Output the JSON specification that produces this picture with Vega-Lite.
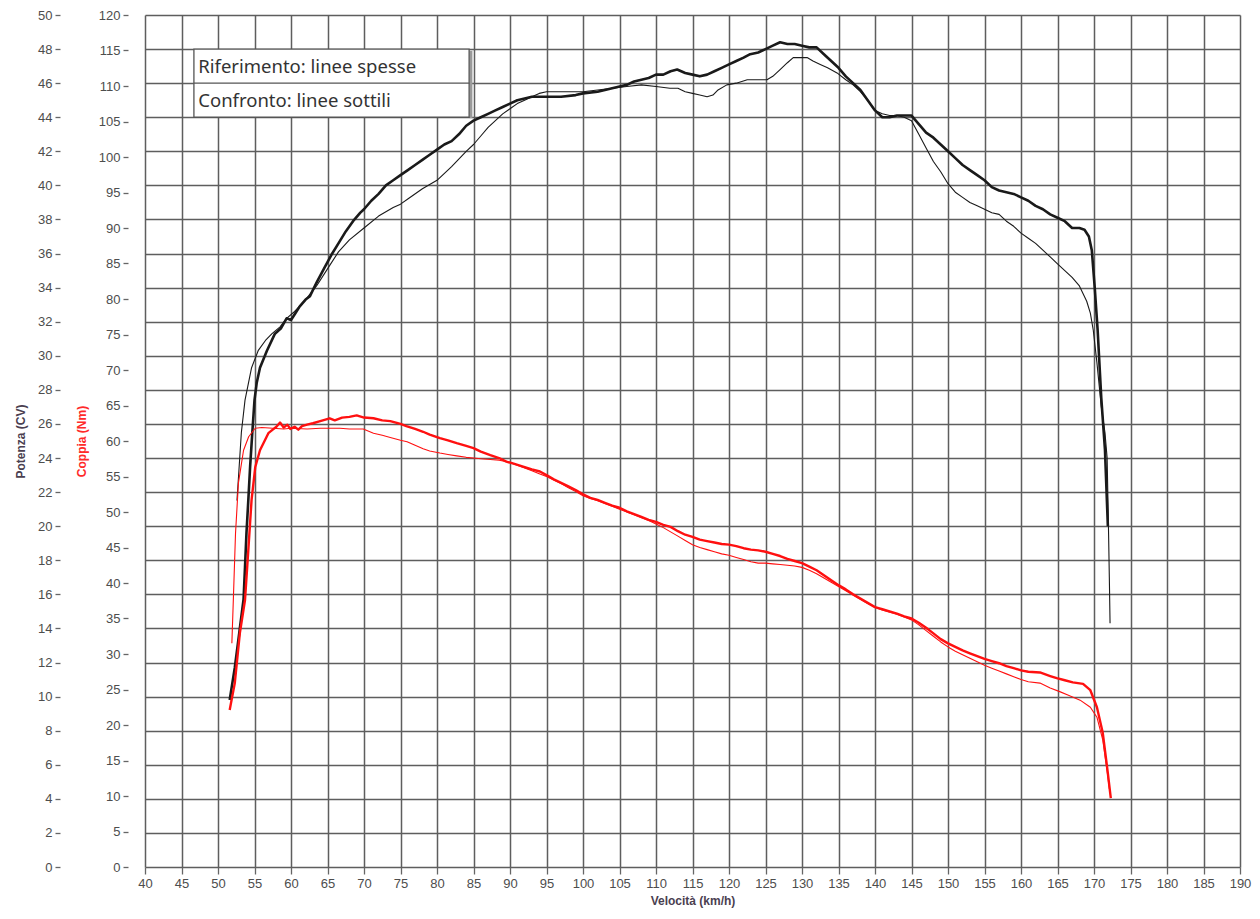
{
"$schema": "https://vega.github.io/schema/vega-lite/v6.json",
"width": 1095,
"height": 852,
"autosize": {"type": "none"},
"padding": {"left": 145, "top": 15, "right": 20, "bottom": 52},
"background": "white",
"config": {"view": {"stroke": null}, "axis": {"labelFont": "Liberation Sans", "titleFont": "Liberation Sans"}},
"datasets": {
"potenza": [
{"v":51.6,"cv":9.8,"serie":"Riferimento"},{"v":52.3,"cv":11.7,"serie":"Riferimento"},{"v":52.9,"cv":13.7,"serie":"Riferimento"},{"v":53.5,"cv":15.7,"serie":"Riferimento"},{"v":53.7,"cv":17.6,"serie":"Riferimento"},{"v":53.9,"cv":19.6,"serie":"Riferimento"},{"v":54.15,"cv":21.5,"serie":"Riferimento"},{"v":54.4,"cv":23.5,"serie":"Riferimento"},{"v":54.7,"cv":25.5,"serie":"Riferimento"},{"v":55.0,"cv":27.4,"serie":"Riferimento"},{"v":55.3,"cv":28.4,"serie":"Riferimento"},{"v":55.75,"cv":29.3,"serie":"Riferimento"},{"v":56.7,"cv":30.3,"serie":"Riferimento"},{"v":57.8,"cv":31.3,"serie":"Riferimento"},{"v":58.6,"cv":31.6,"serie":"Riferimento"},{"v":59.4,"cv":32.2,"serie":"Riferimento"},{"v":60.0,"cv":32.1,"serie":"Riferimento"},{"v":60.6,"cv":32.5,"serie":"Riferimento"},{"v":61.2,"cv":32.9,"serie":"Riferimento"},{"v":62.0,"cv":33.3,"serie":"Riferimento"},{"v":62.6,"cv":33.5,"serie":"Riferimento"},{"v":63.5,"cv":34.3,"serie":"Riferimento"},{"v":64.5,"cv":35.1,"serie":"Riferimento"},{"v":65.5,"cv":35.9,"serie":"Riferimento"},{"v":66.5,"cv":36.6,"serie":"Riferimento"},{"v":67.5,"cv":37.3,"serie":"Riferimento"},{"v":68.5,"cv":37.9,"serie":"Riferimento"},{"v":69.5,"cv":38.4,"serie":"Riferimento"},{"v":70,"cv":38.6,"serie":"Riferimento"},{"v":71,"cv":39.1,"serie":"Riferimento"},{"v":72,"cv":39.5,"serie":"Riferimento"},{"v":73,"cv":40.0,"serie":"Riferimento"},{"v":74,"cv":40.3,"serie":"Riferimento"},{"v":75,"cv":40.6,"serie":"Riferimento"},{"v":76,"cv":40.9,"serie":"Riferimento"},{"v":77,"cv":41.2,"serie":"Riferimento"},{"v":78,"cv":41.5,"serie":"Riferimento"},{"v":79,"cv":41.8,"serie":"Riferimento"},{"v":80,"cv":42.1,"serie":"Riferimento"},{"v":81,"cv":42.4,"serie":"Riferimento"},{"v":82,"cv":42.6,"serie":"Riferimento"},{"v":83,"cv":43.0,"serie":"Riferimento"},{"v":84,"cv":43.5,"serie":"Riferimento"},{"v":85,"cv":43.8,"serie":"Riferimento"},{"v":86,"cv":44.0,"serie":"Riferimento"},{"v":87,"cv":44.2,"serie":"Riferimento"},{"v":88,"cv":44.4,"serie":"Riferimento"},{"v":89,"cv":44.6,"serie":"Riferimento"},{"v":90,"cv":44.8,"serie":"Riferimento"},{"v":91,"cv":45.0,"serie":"Riferimento"},{"v":92,"cv":45.1,"serie":"Riferimento"},{"v":93,"cv":45.2,"serie":"Riferimento"},{"v":95,"cv":45.2,"serie":"Riferimento"},{"v":97,"cv":45.2,"serie":"Riferimento"},{"v":99,"cv":45.3,"serie":"Riferimento"},{"v":100,"cv":45.4,"serie":"Riferimento"},{"v":102,"cv":45.5,"serie":"Riferimento"},{"v":103,"cv":45.6,"serie":"Riferimento"},{"v":104,"cv":45.7,"serie":"Riferimento"},{"v":105,"cv":45.8,"serie":"Riferimento"},{"v":106,"cv":45.9,"serie":"Riferimento"},{"v":107,"cv":46.1,"serie":"Riferimento"},{"v":108,"cv":46.2,"serie":"Riferimento"},{"v":109,"cv":46.3,"serie":"Riferimento"},{"v":110,"cv":46.5,"serie":"Riferimento"},{"v":111,"cv":46.5,"serie":"Riferimento"},{"v":112,"cv":46.7,"serie":"Riferimento"},{"v":112.9,"cv":46.8,"serie":"Riferimento"},{"v":114,"cv":46.6,"serie":"Riferimento"},{"v":115,"cv":46.5,"serie":"Riferimento"},{"v":116,"cv":46.4,"serie":"Riferimento"},{"v":117,"cv":46.5,"serie":"Riferimento"},{"v":118,"cv":46.7,"serie":"Riferimento"},{"v":119,"cv":46.9,"serie":"Riferimento"},{"v":120,"cv":47.1,"serie":"Riferimento"},{"v":121,"cv":47.3,"serie":"Riferimento"},{"v":122,"cv":47.5,"serie":"Riferimento"},{"v":122.9,"cv":47.7,"serie":"Riferimento"},{"v":124,"cv":47.8,"serie":"Riferimento"},{"v":125,"cv":48.0,"serie":"Riferimento"},{"v":126,"cv":48.2,"serie":"Riferimento"},{"v":127,"cv":48.4,"serie":"Riferimento"},{"v":128,"cv":48.3,"serie":"Riferimento"},{"v":129,"cv":48.3,"serie":"Riferimento"},{"v":130,"cv":48.2,"serie":"Riferimento"},{"v":131,"cv":48.1,"serie":"Riferimento"},{"v":132,"cv":48.1,"serie":"Riferimento"},{"v":133,"cv":47.7,"serie":"Riferimento"},{"v":134,"cv":47.3,"serie":"Riferimento"},{"v":135,"cv":46.9,"serie":"Riferimento"},{"v":136,"cv":46.4,"serie":"Riferimento"},{"v":137,"cv":46.0,"serie":"Riferimento"},{"v":138,"cv":45.6,"serie":"Riferimento"},{"v":139,"cv":45.0,"serie":"Riferimento"},{"v":140,"cv":44.4,"serie":"Riferimento"},{"v":141,"cv":44.0,"serie":"Riferimento"},{"v":142,"cv":44.0,"serie":"Riferimento"},{"v":143,"cv":44.1,"serie":"Riferimento"},{"v":144,"cv":44.1,"serie":"Riferimento"},{"v":145,"cv":44.1,"serie":"Riferimento"},{"v":146,"cv":43.6,"serie":"Riferimento"},{"v":147,"cv":43.1,"serie":"Riferimento"},{"v":148,"cv":42.8,"serie":"Riferimento"},{"v":149,"cv":42.4,"serie":"Riferimento"},{"v":150,"cv":42.0,"serie":"Riferimento"},{"v":151,"cv":41.6,"serie":"Riferimento"},{"v":152,"cv":41.2,"serie":"Riferimento"},{"v":153,"cv":40.9,"serie":"Riferimento"},{"v":154,"cv":40.6,"serie":"Riferimento"},{"v":155,"cv":40.3,"serie":"Riferimento"},{"v":156,"cv":39.9,"serie":"Riferimento"},{"v":157,"cv":39.7,"serie":"Riferimento"},{"v":158,"cv":39.6,"serie":"Riferimento"},{"v":159,"cv":39.5,"serie":"Riferimento"},{"v":160,"cv":39.3,"serie":"Riferimento"},{"v":161,"cv":39.1,"serie":"Riferimento"},{"v":162,"cv":38.8,"serie":"Riferimento"},{"v":163,"cv":38.6,"serie":"Riferimento"},{"v":164,"cv":38.3,"serie":"Riferimento"},{"v":165,"cv":38.1,"serie":"Riferimento"},{"v":166,"cv":37.9,"serie":"Riferimento"},{"v":167,"cv":37.5,"serie":"Riferimento"},{"v":168,"cv":37.5,"serie":"Riferimento"},{"v":168.7,"cv":37.4,"serie":"Riferimento"},{"v":169.3,"cv":37.0,"serie":"Riferimento"},{"v":169.7,"cv":36.2,"serie":"Riferimento"},{"v":170.1,"cv":34.0,"serie":"Riferimento"},{"v":170.5,"cv":31.5,"serie":"Riferimento"},{"v":171.0,"cv":27.5,"serie":"Riferimento"},{"v":171.5,"cv":24.5,"serie":"Riferimento"},{"v":171.9,"cv":20.0,"serie":"Riferimento"},
{"v":52.6,"cv":21.5,"serie":"Confronto"},{"v":52.9,"cv":23.5,"serie":"Confronto"},{"v":53.2,"cv":25.5,"serie":"Confronto"},{"v":53.7,"cv":27.4,"serie":"Confronto"},{"v":54.6,"cv":29.3,"serie":"Confronto"},{"v":55.5,"cv":30.3,"serie":"Confronto"},{"v":56.5,"cv":30.9,"serie":"Confronto"},{"v":57.4,"cv":31.3,"serie":"Confronto"},{"v":58.5,"cv":31.7,"serie":"Confronto"},{"v":59.4,"cv":32.2,"serie":"Confronto"},{"v":60.5,"cv":32.6,"serie":"Confronto"},{"v":62,"cv":33.3,"serie":"Confronto"},{"v":63.5,"cv":34.1,"serie":"Confronto"},{"v":65,"cv":35.1,"serie":"Confronto"},{"v":66.5,"cv":36.1,"serie":"Confronto"},{"v":68,"cv":36.8,"serie":"Confronto"},{"v":70,"cv":37.5,"serie":"Confronto"},{"v":72,"cv":38.2,"serie":"Confronto"},{"v":74,"cv":38.7,"serie":"Confronto"},{"v":75,"cv":38.9,"serie":"Confronto"},{"v":76,"cv":39.2,"serie":"Confronto"},{"v":78,"cv":39.8,"serie":"Confronto"},{"v":80,"cv":40.3,"serie":"Confronto"},{"v":82,"cv":41.1,"serie":"Confronto"},{"v":84,"cv":42.0,"serie":"Confronto"},{"v":85,"cv":42.4,"serie":"Confronto"},{"v":86,"cv":42.9,"serie":"Confronto"},{"v":87,"cv":43.4,"serie":"Confronto"},{"v":88,"cv":43.8,"serie":"Confronto"},{"v":89,"cv":44.2,"serie":"Confronto"},{"v":90,"cv":44.5,"serie":"Confronto"},{"v":91,"cv":44.8,"serie":"Confronto"},{"v":92,"cv":45.0,"serie":"Confronto"},{"v":93,"cv":45.2,"serie":"Confronto"},{"v":94,"cv":45.4,"serie":"Confronto"},{"v":95,"cv":45.5,"serie":"Confronto"},{"v":98,"cv":45.5,"serie":"Confronto"},{"v":100,"cv":45.5,"serie":"Confronto"},{"v":102,"cv":45.6,"serie":"Confronto"},{"v":104,"cv":45.7,"serie":"Confronto"},{"v":106,"cv":45.8,"serie":"Confronto"},{"v":108,"cv":45.9,"serie":"Confronto"},{"v":110,"cv":45.8,"serie":"Confronto"},{"v":111.9,"cv":45.7,"serie":"Confronto"},{"v":113,"cv":45.7,"serie":"Confronto"},{"v":114,"cv":45.5,"serie":"Confronto"},{"v":115,"cv":45.4,"serie":"Confronto"},{"v":116,"cv":45.3,"serie":"Confronto"},{"v":117,"cv":45.2,"serie":"Confronto"},{"v":117.8,"cv":45.3,"serie":"Confronto"},{"v":118.5,"cv":45.6,"serie":"Confronto"},{"v":119.7,"cv":45.9,"serie":"Confronto"},{"v":121,"cv":46.0,"serie":"Confronto"},{"v":122.5,"cv":46.2,"serie":"Confronto"},{"v":124,"cv":46.2,"serie":"Confronto"},{"v":125.2,"cv":46.2,"serie":"Confronto"},{"v":126,"cv":46.4,"serie":"Confronto"},{"v":127,"cv":46.8,"serie":"Confronto"},{"v":128,"cv":47.2,"serie":"Confronto"},{"v":128.8,"cv":47.5,"serie":"Confronto"},{"v":130,"cv":47.5,"serie":"Confronto"},{"v":130.7,"cv":47.5,"serie":"Confronto"},{"v":131.5,"cv":47.3,"serie":"Confronto"},{"v":132.5,"cv":47.1,"serie":"Confronto"},{"v":133.5,"cv":46.9,"serie":"Confronto"},{"v":134.8,"cv":46.6,"serie":"Confronto"},{"v":136,"cv":46.2,"serie":"Confronto"},{"v":137,"cv":45.9,"serie":"Confronto"},{"v":138,"cv":45.5,"serie":"Confronto"},{"v":139,"cv":45.0,"serie":"Confronto"},{"v":140,"cv":44.4,"serie":"Confronto"},{"v":141,"cv":44.2,"serie":"Confronto"},{"v":142,"cv":44.1,"serie":"Confronto"},{"v":143,"cv":44.1,"serie":"Confronto"},{"v":144,"cv":44.0,"serie":"Confronto"},{"v":145,"cv":43.8,"serie":"Confronto"},{"v":146,"cv":43.0,"serie":"Confronto"},{"v":147,"cv":42.2,"serie":"Confronto"},{"v":148,"cv":41.4,"serie":"Confronto"},{"v":149,"cv":40.8,"serie":"Confronto"},{"v":150,"cv":40.1,"serie":"Confronto"},{"v":151,"cv":39.6,"serie":"Confronto"},{"v":152,"cv":39.3,"serie":"Confronto"},{"v":153,"cv":39.0,"serie":"Confronto"},{"v":154,"cv":38.8,"serie":"Confronto"},{"v":155,"cv":38.6,"serie":"Confronto"},{"v":156,"cv":38.4,"serie":"Confronto"},{"v":157,"cv":38.3,"serie":"Confronto"},{"v":158,"cv":37.9,"serie":"Confronto"},{"v":159,"cv":37.6,"serie":"Confronto"},{"v":160,"cv":37.2,"serie":"Confronto"},{"v":161,"cv":36.9,"serie":"Confronto"},{"v":162,"cv":36.6,"serie":"Confronto"},{"v":163,"cv":36.2,"serie":"Confronto"},{"v":164,"cv":35.8,"serie":"Confronto"},{"v":165,"cv":35.4,"serie":"Confronto"},{"v":166,"cv":35.0,"serie":"Confronto"},{"v":167,"cv":34.6,"serie":"Confronto"},{"v":168,"cv":34.1,"serie":"Confronto"},{"v":169,"cv":33.2,"serie":"Confronto"},{"v":169.5,"cv":32.5,"serie":"Confronto"},{"v":169.9,"cv":31.5,"serie":"Confronto"},{"v":170.4,"cv":29.6,"serie":"Confronto"},{"v":171.0,"cv":27.0,"serie":"Confronto"},{"v":171.5,"cv":25.5,"serie":"Confronto"},{"v":171.8,"cv":24.0,"serie":"Confronto"},{"v":172.0,"cv":19.5,"serie":"Confronto"},{"v":172.1,"cv":17.0,"serie":"Confronto"},{"v":172.2,"cv":14.3,"serie":"Confronto"}
],
"coppia": [
{"v":51.6,"nm":22.1,"serie":"Riferimento"},{"v":52.3,"nm":25.9,"serie":"Riferimento"},{"v":53.0,"nm":33.0,"serie":"Riferimento"},{"v":53.7,"nm":37.6,"serie":"Riferimento"},{"v":54.15,"nm":44.6,"serie":"Riferimento"},{"v":54.6,"nm":51.7,"serie":"Riferimento"},{"v":55.1,"nm":56.3,"serie":"Riferimento"},{"v":55.75,"nm":58.7,"serie":"Riferimento"},{"v":56.9,"nm":61.1,"serie":"Riferimento"},{"v":57.5,"nm":61.6,"serie":"Riferimento"},{"v":58.0,"nm":62.0,"serie":"Riferimento"},{"v":58.5,"nm":62.6,"serie":"Riferimento"},{"v":59.0,"nm":61.9,"serie":"Riferimento"},{"v":59.5,"nm":62.3,"serie":"Riferimento"},{"v":59.9,"nm":61.7,"serie":"Riferimento"},{"v":60.5,"nm":62.0,"serie":"Riferimento"},{"v":61.0,"nm":61.6,"serie":"Riferimento"},{"v":61.5,"nm":62.1,"serie":"Riferimento"},{"v":62.2,"nm":62.3,"serie":"Riferimento"},{"v":63,"nm":62.5,"serie":"Riferimento"},{"v":64,"nm":62.8,"serie":"Riferimento"},{"v":65.3,"nm":63.2,"serie":"Riferimento"},{"v":66,"nm":62.9,"serie":"Riferimento"},{"v":67,"nm":63.3,"serie":"Riferimento"},{"v":68,"nm":63.4,"serie":"Riferimento"},{"v":69,"nm":63.6,"serie":"Riferimento"},{"v":70,"nm":63.3,"serie":"Riferimento"},{"v":71.3,"nm":63.2,"serie":"Riferimento"},{"v":72.5,"nm":62.9,"serie":"Riferimento"},{"v":73.6,"nm":62.8,"serie":"Riferimento"},{"v":75,"nm":62.4,"serie":"Riferimento"},{"v":75.8,"nm":62.1,"serie":"Riferimento"},{"v":77,"nm":61.7,"serie":"Riferimento"},{"v":78.1,"nm":61.3,"serie":"Riferimento"},{"v":79,"nm":60.9,"serie":"Riferimento"},{"v":80.4,"nm":60.4,"serie":"Riferimento"},{"v":81.5,"nm":60.1,"serie":"Riferimento"},{"v":82.7,"nm":59.7,"serie":"Riferimento"},{"v":84,"nm":59.3,"serie":"Riferimento"},{"v":85,"nm":59.0,"serie":"Riferimento"},{"v":86,"nm":58.5,"serie":"Riferimento"},{"v":87.3,"nm":58.0,"serie":"Riferimento"},{"v":88.5,"nm":57.6,"serie":"Riferimento"},{"v":89.5,"nm":57.1,"serie":"Riferimento"},{"v":90.5,"nm":56.8,"serie":"Riferimento"},{"v":91.8,"nm":56.4,"serie":"Riferimento"},{"v":93,"nm":56.0,"serie":"Riferimento"},{"v":94.1,"nm":55.7,"serie":"Riferimento"},{"v":95,"nm":55.2,"serie":"Riferimento"},{"v":96,"nm":54.6,"serie":"Riferimento"},{"v":97,"nm":54.1,"serie":"Riferimento"},{"v":98,"nm":53.6,"serie":"Riferimento"},{"v":99,"nm":53.1,"serie":"Riferimento"},{"v":100,"nm":52.5,"serie":"Riferimento"},{"v":101,"nm":52.0,"serie":"Riferimento"},{"v":102,"nm":51.7,"serie":"Riferimento"},{"v":103,"nm":51.3,"serie":"Riferimento"},{"v":104,"nm":50.9,"serie":"Riferimento"},{"v":105,"nm":50.6,"serie":"Riferimento"},{"v":106,"nm":50.1,"serie":"Riferimento"},{"v":107,"nm":49.7,"serie":"Riferimento"},{"v":108,"nm":49.3,"serie":"Riferimento"},{"v":109,"nm":48.9,"serie":"Riferimento"},{"v":110,"nm":48.6,"serie":"Riferimento"},{"v":111,"nm":48.2,"serie":"Riferimento"},{"v":112,"nm":47.9,"serie":"Riferimento"},{"v":113,"nm":47.3,"serie":"Riferimento"},{"v":114,"nm":46.8,"serie":"Riferimento"},{"v":115,"nm":46.5,"serie":"Riferimento"},{"v":116,"nm":46.1,"serie":"Riferimento"},{"v":117,"nm":45.9,"serie":"Riferimento"},{"v":118,"nm":45.7,"serie":"Riferimento"},{"v":119,"nm":45.5,"serie":"Riferimento"},{"v":120,"nm":45.4,"serie":"Riferimento"},{"v":121,"nm":45.2,"serie":"Riferimento"},{"v":122,"nm":44.9,"serie":"Riferimento"},{"v":123,"nm":44.7,"serie":"Riferimento"},{"v":124,"nm":44.6,"serie":"Riferimento"},{"v":125,"nm":44.4,"serie":"Riferimento"},{"v":126,"nm":44.1,"serie":"Riferimento"},{"v":127,"nm":43.8,"serie":"Riferimento"},{"v":128,"nm":43.4,"serie":"Riferimento"},{"v":129,"nm":43.1,"serie":"Riferimento"},{"v":130,"nm":42.8,"serie":"Riferimento"},{"v":131,"nm":42.3,"serie":"Riferimento"},{"v":132,"nm":41.8,"serie":"Riferimento"},{"v":133,"nm":41.1,"serie":"Riferimento"},{"v":134,"nm":40.4,"serie":"Riferimento"},{"v":135,"nm":39.7,"serie":"Riferimento"},{"v":136,"nm":39.1,"serie":"Riferimento"},{"v":137,"nm":38.4,"serie":"Riferimento"},{"v":138,"nm":37.8,"serie":"Riferimento"},{"v":139,"nm":37.2,"serie":"Riferimento"},{"v":140,"nm":36.6,"serie":"Riferimento"},{"v":141,"nm":36.3,"serie":"Riferimento"},{"v":142,"nm":36.0,"serie":"Riferimento"},{"v":143,"nm":35.7,"serie":"Riferimento"},{"v":144,"nm":35.3,"serie":"Riferimento"},{"v":145,"nm":35.0,"serie":"Riferimento"},{"v":146,"nm":34.4,"serie":"Riferimento"},{"v":147,"nm":33.7,"serie":"Riferimento"},{"v":148,"nm":32.9,"serie":"Riferimento"},{"v":149,"nm":32.1,"serie":"Riferimento"},{"v":150,"nm":31.5,"serie":"Riferimento"},{"v":151,"nm":31.0,"serie":"Riferimento"},{"v":152,"nm":30.5,"serie":"Riferimento"},{"v":153,"nm":30.1,"serie":"Riferimento"},{"v":154,"nm":29.7,"serie":"Riferimento"},{"v":155,"nm":29.3,"serie":"Riferimento"},{"v":156,"nm":29.0,"serie":"Riferimento"},{"v":157,"nm":28.7,"serie":"Riferimento"},{"v":158,"nm":28.3,"serie":"Riferimento"},{"v":159,"nm":28.0,"serie":"Riferimento"},{"v":160,"nm":27.7,"serie":"Riferimento"},{"v":161,"nm":27.5,"serie":"Riferimento"},{"v":162.6,"nm":27.4,"serie":"Riferimento"},{"v":164,"nm":26.9,"serie":"Riferimento"},{"v":164.9,"nm":26.6,"serie":"Riferimento"},{"v":166,"nm":26.3,"serie":"Riferimento"},{"v":167.1,"nm":26.0,"serie":"Riferimento"},{"v":168.5,"nm":25.8,"serie":"Riferimento"},{"v":169.5,"nm":24.9,"serie":"Riferimento"},{"v":170.4,"nm":22.5,"serie":"Riferimento"},{"v":171.2,"nm":18.9,"serie":"Riferimento"},{"v":171.9,"nm":13.2,"serie":"Riferimento"},{"v":172.3,"nm":9.7,"serie":"Riferimento"},
{"v":51.9,"nm":31.5,"serie":"Confronto"},{"v":52.1,"nm":37.6,"serie":"Confronto"},{"v":52.4,"nm":47.0,"serie":"Confronto"},{"v":52.8,"nm":54.1,"serie":"Confronto"},{"v":53.5,"nm":58.7,"serie":"Confronto"},{"v":54.2,"nm":60.6,"serie":"Confronto"},{"v":55.1,"nm":61.8,"serie":"Confronto"},{"v":56,"nm":61.9,"serie":"Confronto"},{"v":57.5,"nm":61.8,"serie":"Confronto"},{"v":59,"nm":61.7,"serie":"Confronto"},{"v":60,"nm":61.8,"serie":"Confronto"},{"v":62.2,"nm":61.7,"serie":"Confronto"},{"v":64,"nm":61.8,"serie":"Confronto"},{"v":66.7,"nm":61.8,"serie":"Confronto"},{"v":68,"nm":61.7,"serie":"Confronto"},{"v":69.9,"nm":61.7,"serie":"Confronto"},{"v":71.3,"nm":61.1,"serie":"Confronto"},{"v":72.5,"nm":60.8,"serie":"Confronto"},{"v":73.6,"nm":60.5,"serie":"Confronto"},{"v":75,"nm":60.1,"serie":"Confronto"},{"v":75.9,"nm":59.9,"serie":"Confronto"},{"v":77,"nm":59.4,"serie":"Confronto"},{"v":78.1,"nm":58.9,"serie":"Confronto"},{"v":79,"nm":58.6,"serie":"Confronto"},{"v":80.4,"nm":58.3,"serie":"Confronto"},{"v":81.5,"nm":58.1,"serie":"Confronto"},{"v":82.7,"nm":57.9,"serie":"Confronto"},{"v":84,"nm":57.7,"serie":"Confronto"},{"v":85,"nm":57.6,"serie":"Confronto"},{"v":86,"nm":57.5,"serie":"Confronto"},{"v":87.3,"nm":57.4,"serie":"Confronto"},{"v":88.5,"nm":57.3,"serie":"Confronto"},{"v":89.6,"nm":57.1,"serie":"Confronto"},{"v":91,"nm":56.6,"serie":"Confronto"},{"v":92,"nm":56.2,"serie":"Confronto"},{"v":93,"nm":55.8,"serie":"Confronto"},{"v":94,"nm":55.4,"serie":"Confronto"},{"v":95,"nm":55.0,"serie":"Confronto"},{"v":96,"nm":54.5,"serie":"Confronto"},{"v":97,"nm":54.0,"serie":"Confronto"},{"v":98,"nm":53.4,"serie":"Confronto"},{"v":99,"nm":52.9,"serie":"Confronto"},{"v":100,"nm":52.3,"serie":"Confronto"},{"v":101,"nm":51.9,"serie":"Confronto"},{"v":102,"nm":51.6,"serie":"Confronto"},{"v":103,"nm":51.2,"serie":"Confronto"},{"v":104,"nm":50.8,"serie":"Confronto"},{"v":105,"nm":50.4,"serie":"Confronto"},{"v":106,"nm":50.0,"serie":"Confronto"},{"v":107,"nm":49.6,"serie":"Confronto"},{"v":108,"nm":49.2,"serie":"Confronto"},{"v":109,"nm":48.8,"serie":"Confronto"},{"v":110,"nm":48.3,"serie":"Confronto"},{"v":111,"nm":47.8,"serie":"Confronto"},{"v":112,"nm":47.2,"serie":"Confronto"},{"v":113,"nm":46.6,"serie":"Confronto"},{"v":114,"nm":46.0,"serie":"Confronto"},{"v":115,"nm":45.4,"serie":"Confronto"},{"v":116,"nm":45.0,"serie":"Confronto"},{"v":117,"nm":44.7,"serie":"Confronto"},{"v":118,"nm":44.4,"serie":"Confronto"},{"v":119,"nm":44.1,"serie":"Confronto"},{"v":120,"nm":43.9,"serie":"Confronto"},{"v":121,"nm":43.6,"serie":"Confronto"},{"v":122,"nm":43.3,"serie":"Confronto"},{"v":123,"nm":43.0,"serie":"Confronto"},{"v":124,"nm":42.8,"serie":"Confronto"},{"v":125,"nm":42.8,"serie":"Confronto"},{"v":126,"nm":42.7,"serie":"Confronto"},{"v":127,"nm":42.6,"serie":"Confronto"},{"v":128,"nm":42.5,"serie":"Confronto"},{"v":129,"nm":42.4,"serie":"Confronto"},{"v":130,"nm":42.2,"serie":"Confronto"},{"v":131,"nm":41.8,"serie":"Confronto"},{"v":132,"nm":41.3,"serie":"Confronto"},{"v":133,"nm":40.7,"serie":"Confronto"},{"v":134,"nm":40.1,"serie":"Confronto"},{"v":135,"nm":39.5,"serie":"Confronto"},{"v":136,"nm":38.9,"serie":"Confronto"},{"v":137,"nm":38.3,"serie":"Confronto"},{"v":138,"nm":37.7,"serie":"Confronto"},{"v":139,"nm":37.1,"serie":"Confronto"},{"v":140,"nm":36.6,"serie":"Confronto"},{"v":141,"nm":36.2,"serie":"Confronto"},{"v":142,"nm":35.9,"serie":"Confronto"},{"v":143,"nm":35.6,"serie":"Confronto"},{"v":144,"nm":35.2,"serie":"Confronto"},{"v":145,"nm":34.8,"serie":"Confronto"},{"v":146,"nm":34.1,"serie":"Confronto"},{"v":147,"nm":33.3,"serie":"Confronto"},{"v":148,"nm":32.5,"serie":"Confronto"},{"v":149,"nm":31.7,"serie":"Confronto"},{"v":150,"nm":31.0,"serie":"Confronto"},{"v":151,"nm":30.4,"serie":"Confronto"},{"v":152,"nm":29.9,"serie":"Confronto"},{"v":153,"nm":29.4,"serie":"Confronto"},{"v":154,"nm":28.9,"serie":"Confronto"},{"v":155,"nm":28.4,"serie":"Confronto"},{"v":156,"nm":28.0,"serie":"Confronto"},{"v":157,"nm":27.6,"serie":"Confronto"},{"v":158,"nm":27.2,"serie":"Confronto"},{"v":159,"nm":26.8,"serie":"Confronto"},{"v":160,"nm":26.4,"serie":"Confronto"},{"v":161,"nm":26.1,"serie":"Confronto"},{"v":162.6,"nm":25.9,"serie":"Confronto"},{"v":164,"nm":25.2,"serie":"Confronto"},{"v":165.3,"nm":24.7,"serie":"Confronto"},{"v":166.5,"nm":24.2,"serie":"Confronto"},{"v":168.1,"nm":23.5,"serie":"Confronto"},{"v":169.5,"nm":22.5,"serie":"Confronto"},{"v":170.4,"nm":21.1,"serie":"Confronto"},{"v":171.2,"nm":17.9,"serie":"Confronto"},{"v":171.8,"nm":13.5,"serie":"Confronto"},{"v":172.1,"nm":11.0,"serie":"Confronto"}
],
"nota_box": [{"v": 46.7, "v2": 84.4, "c1": 44, "c2": 48}],
"nota_ombra": [{"v": 84.42, "v2": 84.85, "c1": 43.95, "c2": 47.9}],
"nota_testo": [
{"v": 47.3, "cv": 46.95, "testo": "Riferimento: linee spesse"},
{"v": 47.3, "cv": 44.95, "testo": "Confronto: linee sottili"}
]
},
"encoding": {
"x": {"field": "v", "type": "quantitative", "scale": {"domain": [40, 190], "nice": false, "zero": false},
"axis": {"title": "Velocità (km/h)", "values": [40,45,50,55,60,65,70,75,80,85,90,95,100,105,110,115,120,125,130,135,140,145,150,155,160,165,170,175,180,185,190],
"grid": true, "gridColor": "#5e5e5e", "gridWidth": 1.5, "domain": false, "tickColor": "#666", "tickSize": 7, "tickWidth": 1.3,
"labelFontSize": 13, "labelColor": "#4d4d4d", "labelPadding": 3, "labelFlush": false, "labelOverlap": false,
"titleFontSize": 12, "titleFontWeight": "bold", "titleColor": "#4a4050", "titlePadding": 5}}
},
"layer": [
{
"data": {"name": "potenza"},
"mark": {"type": "line", "color": "#1a1a1a", "strokeJoin": "round"},
"encoding": {
"y": {"field": "cv", "type": "quantitative", "scale": {"domain": [0, 50], "nice": false},
"axis": {"title": "Potenza (CV)", "offset": 85, "values": [0,2,4,6,8,10,12,14,16,18,20,22,24,26,28,30,32,34,36,38,40,42,44,46,48,50],
"grid": true, "gridColor": "#5e5e5e", "gridWidth": 1.5, "domain": false, "tickColor": "#666", "tickSize": 5, "tickWidth": 1.3,
"labelFontSize": 13, "labelColor": "#4d4d4d", "labelPadding": 3, "labelFlush": false, "labelOverlap": false,
"titleFontSize": 12, "titleFontWeight": "bold", "titleColor": "#4a4050", "titlePadding": 10}},
"strokeWidth": {"field": "serie", "type": "nominal", "scale": {"domain": ["Riferimento", "Confronto"], "range": [2.6, 1.1]}, "legend": null}
}
},
{
"data": {"name": "coppia"},
"mark": {"type": "line", "color": "#ff1010", "strokeJoin": "round"},
"encoding": {
"y": {"field": "nm", "type": "quantitative", "scale": {"domain": [0, 120], "nice": false},
"axis": {"title": "Coppia (Nm)", "orient": "left", "offset": 17, "values": [0,5,10,15,20,25,30,35,40,45,50,55,60,65,70,75,80,85,90,95,100,105,110,115,120],
"grid": false, "domain": false, "tickColor": "#666", "tickSize": 5, "tickWidth": 1.3,
"labelFontSize": 13, "labelColor": "#4d4d4d", "labelPadding": 3, "labelFlush": false, "labelOverlap": false,
"titleFontSize": 12, "titleFontWeight": "bold", "titleColor": "#ff2a2a", "titlePadding": 10}},
"strokeWidth": {"field": "serie", "type": "nominal", "scale": {"domain": ["Riferimento", "Confronto"], "range": [2.4, 1.1]}, "legend": null}
}
},
{
"data": {"name": "nota_ombra"},
"mark": {"type": "rect", "fill": "#9a9a9a"},
"encoding": {
"x2": {"field": "v2"},
"y": {"field": "c1", "type": "quantitative", "scale": {"domain": [0, 50], "nice": false}, "axis": null},
"y2": {"field": "c2"}
}
},
{
"data": {"name": "nota_box"},
"mark": {"type": "rect", "fill": "white", "stroke": "#555", "strokeWidth": 1.3},
"encoding": {
"x2": {"field": "v2"},
"y": {"field": "c1", "type": "quantitative", "scale": {"domain": [0, 50], "nice": false}, "axis": null},
"y2": {"field": "c2"}
}
},
{
"data": {"name": "nota_box"},
"mark": {"type": "rule", "stroke": "#555", "strokeWidth": 1.3},
"encoding": {
"x2": {"field": "v2"},
"y": {"datum": 46, "type": "quantitative", "scale": {"domain": [0, 50], "nice": false}, "axis": null}
}
},
{
"data": {"name": "nota_testo"},
"mark": {"type": "text", "align": "left", "baseline": "middle", "font": "Noto Sans", "fontSize": 18.5, "color": "#333"},
"encoding": {
"y": {"field": "cv", "type": "quantitative", "scale": {"domain": [0, 50], "nice": false}, "axis": null},
"text": {"field": "testo"}
}
}
],
"resolve": {"scale": {"y": "independent", "strokeWidth": "independent"}}
}
